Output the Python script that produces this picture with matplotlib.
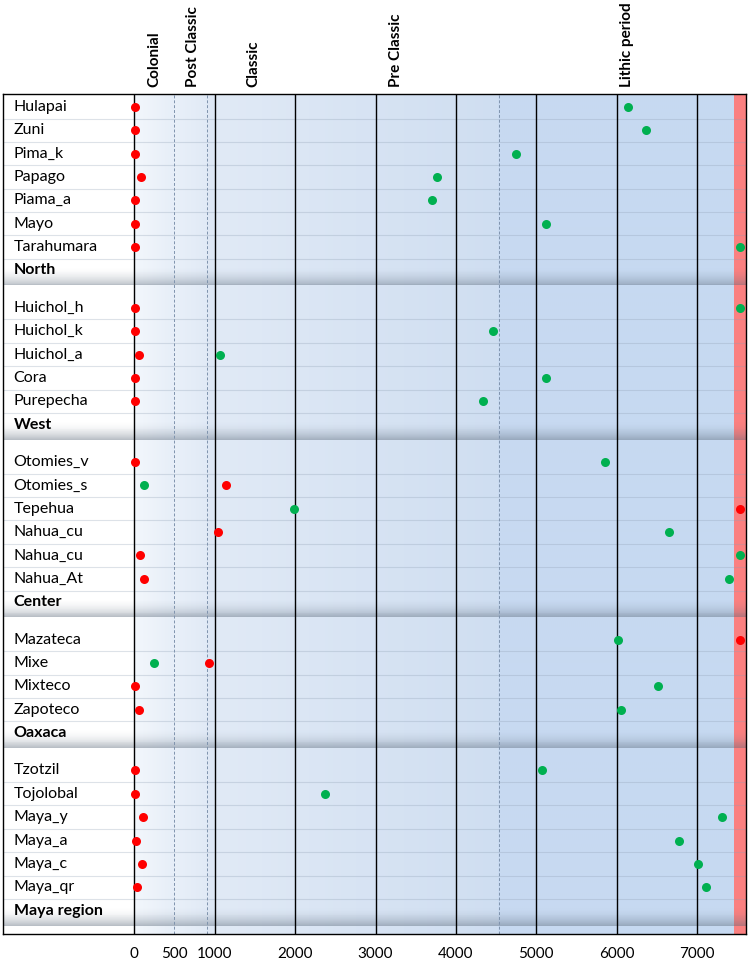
import numpy as np
import matplotlib
matplotlib.use('Agg')
import matplotlib.pyplot as plt
from matplotlib.colors import to_rgb
from matplotlib.transforms import blended_transform_factory

plt.rcParams['font.family'] = ['Lato', 'DejaVu Sans']

groups = ['North', 'West', 'Center', 'Oaxaca', 'Maya region']
names = [
    ['Hulapai', 'Zuni', 'Pima_k', 'Papago', 'Piama_a', 'Mayo', 'Tarahumara'],
    ['Huichol_h', 'Huichol_k', 'Huichol_a', 'Cora', 'Purepecha'],
    ['Otomies_v', 'Otomies_s', 'Tepehua', 'Nahua_cu', 'Nahua_cu', 'Nahua_At'],
    ['Mazateca', 'Mixe', 'Mixteco', 'Zapoteco'],
    ['Tzotzil', 'Tojolobal', 'Maya_y', 'Maya_a', 'Maya_c', 'Maya_qr'],
]
red_vals = [
    [5, 5, 5, 80, 5, 5, 5],
    [12, 10, 60, 10, 5],
    [12, 1145, 7530, 1045, 71, 121],
    [7530, 930, 5, 55],
    [12, 5, 112, 25, 96, 30],
]
green_vals = [
    [6140, 6360, 4750, 3765, 3700, 5120, 7530],
    [7530, 4460, 1070, 5120, 4340],
    [5855, 125, 1990, 6650, 7530, 7400],
    [6015, 245, 6515, 6055],
    [5070, 2375, 7310, 6780, 7010, 7110],
]
periods = ['Colonial', 'Post Classic', 'Classic', 'Pre Classic', 'Lithic period']
period_x = [255, 735, 1480, 3250, 6125]
xticks = [0, 500, 1000, 2000, 3000, 4000, 5000, 6000, 7000]
solid_lines = [0, 1000, 2000, 3000, 4000, 5000, 6000, 7000]
dashed_lines = [500, 905, 4530]

XMIN, XMAX = -1633, 7608
RED_START = 7460
GAP = 1.6

# row positions (y grows downwards)
item_y, label_y = [], []
pos = 0.0
for g, items in zip(groups, names):
    ys = []
    for _ in items:
        ys.append(pos)
        pos += 1
    item_y.append(ys)
    label_y.append(pos)
    pos += GAP
ytop = -0.55
ybot = label_y[-1] + 1.0

fig = plt.figure(figsize=(7.5, 9.6), dpi=100)
ax = fig.add_axes([3 / 750, 1 - 934 / 960, 743 / 750, 840 / 960])
ax.set_xlim(XMIN, XMAX)
ax.set_ylim(ybot, ytop)

# background gradient for the time area
stops = [(0, '#f3f7fc'), (500, '#e6eef8'), (500, '#e9f0f9'), (905, '#e1eaf6'),
         (905, '#dfe8f5'), (1000, '#dde7f4'), (1000, '#e1eaf6'), (4530, '#cfdef1'),
         (4530, '#c8daf1'), (RED_START, '#c6d9f1')]
xs = np.linspace(0, RED_START, 1500)
sx = [s[0] for s in stops]
cols = np.array([to_rgb(s[1]) for s in stops])
img = np.zeros((1, len(xs), 3))
for c in range(3):
    for i, x in enumerate(xs):
        j = np.searchsorted(sx, x, side='right') - 1
        j = min(max(j, 0), len(sx) - 2)
        if sx[j + 1] == sx[j]:
            img[0, i, c] = cols[j + 1, c]
        else:
            t = (x - sx[j]) / (sx[j + 1] - sx[j])
            img[0, i, c] = cols[j, c] + t * (cols[j + 1, c] - cols[j, c])
ax.imshow(img, extent=[0, RED_START, ybot, ytop], aspect='auto', zorder=0,
          interpolation='bilinear')
ax.axvspan(RED_START, XMAX, color='#fa8080', zorder=0.5, lw=0)

# row separators
for ys, yl in zip(item_y, label_y):
    rows = ys + [yl]
    for a, b in zip(rows[:-1], rows[1:]):
        ax.axhline((a + b) / 2, color='#8fa0b4', alpha=0.3, lw=0.8, zorder=1)
    # shaded band under each group label
    n = 20
    y0, y1 = yl - 0.15, yl + 0.64
    edges = np.linspace(y0, y1, n + 1)
    for k in range(n):
        ax.axhspan(edges[k], edges[k + 1], color='#5a6878',
                   alpha=0.42 * ((k + 1) / n) ** 2, lw=0, zorder=1.2)

for x in solid_lines:
    ax.axvline(x, color='black', lw=1.0, zorder=2)
for x in dashed_lines:
    ax.axvline(x, color='#7f93ad', lw=0.7, ls=(0, (3, 2)), zorder=2)

# labels and dots
for g, items, ys, yl, rv, gv in zip(groups, names, item_y, label_y, red_vals, green_vals):
    for name, y in zip(items, ys):
        ax.text(-1500, y, name, va='center', ha='left', fontsize=11.5, zorder=3)
    ax.text(-1500, yl, g, va='center', ha='left', fontsize=11.5,
            fontweight='bold', zorder=3)
    ax.plot(rv, ys, 'o', color='#ff0000', ms=6.5, mec='none', zorder=4, clip_on=False)
    ax.plot(gv, ys, 'o', color='#00b050', ms=6.5, mec='none', zorder=4, clip_on=False)

trans = blended_transform_factory(ax.transData, ax.transAxes)
for p, x in zip(periods, period_x):
    ax.text(x, 1.008, p, rotation=90, ha='center', va='bottom', fontsize=11,
            fontweight='bold', transform=trans)

ax.set_xticks(xticks)
ax.set_xticklabels([str(t) for t in xticks], fontsize=11)
ax.tick_params(axis='x', length=0, pad=9)
ax.set_yticks([])
for s in ax.spines.values():
    s.set_color('black')
    s.set_linewidth(1.0)
    s.set_zorder(5)

fig.savefig('out.png', dpi=100)
